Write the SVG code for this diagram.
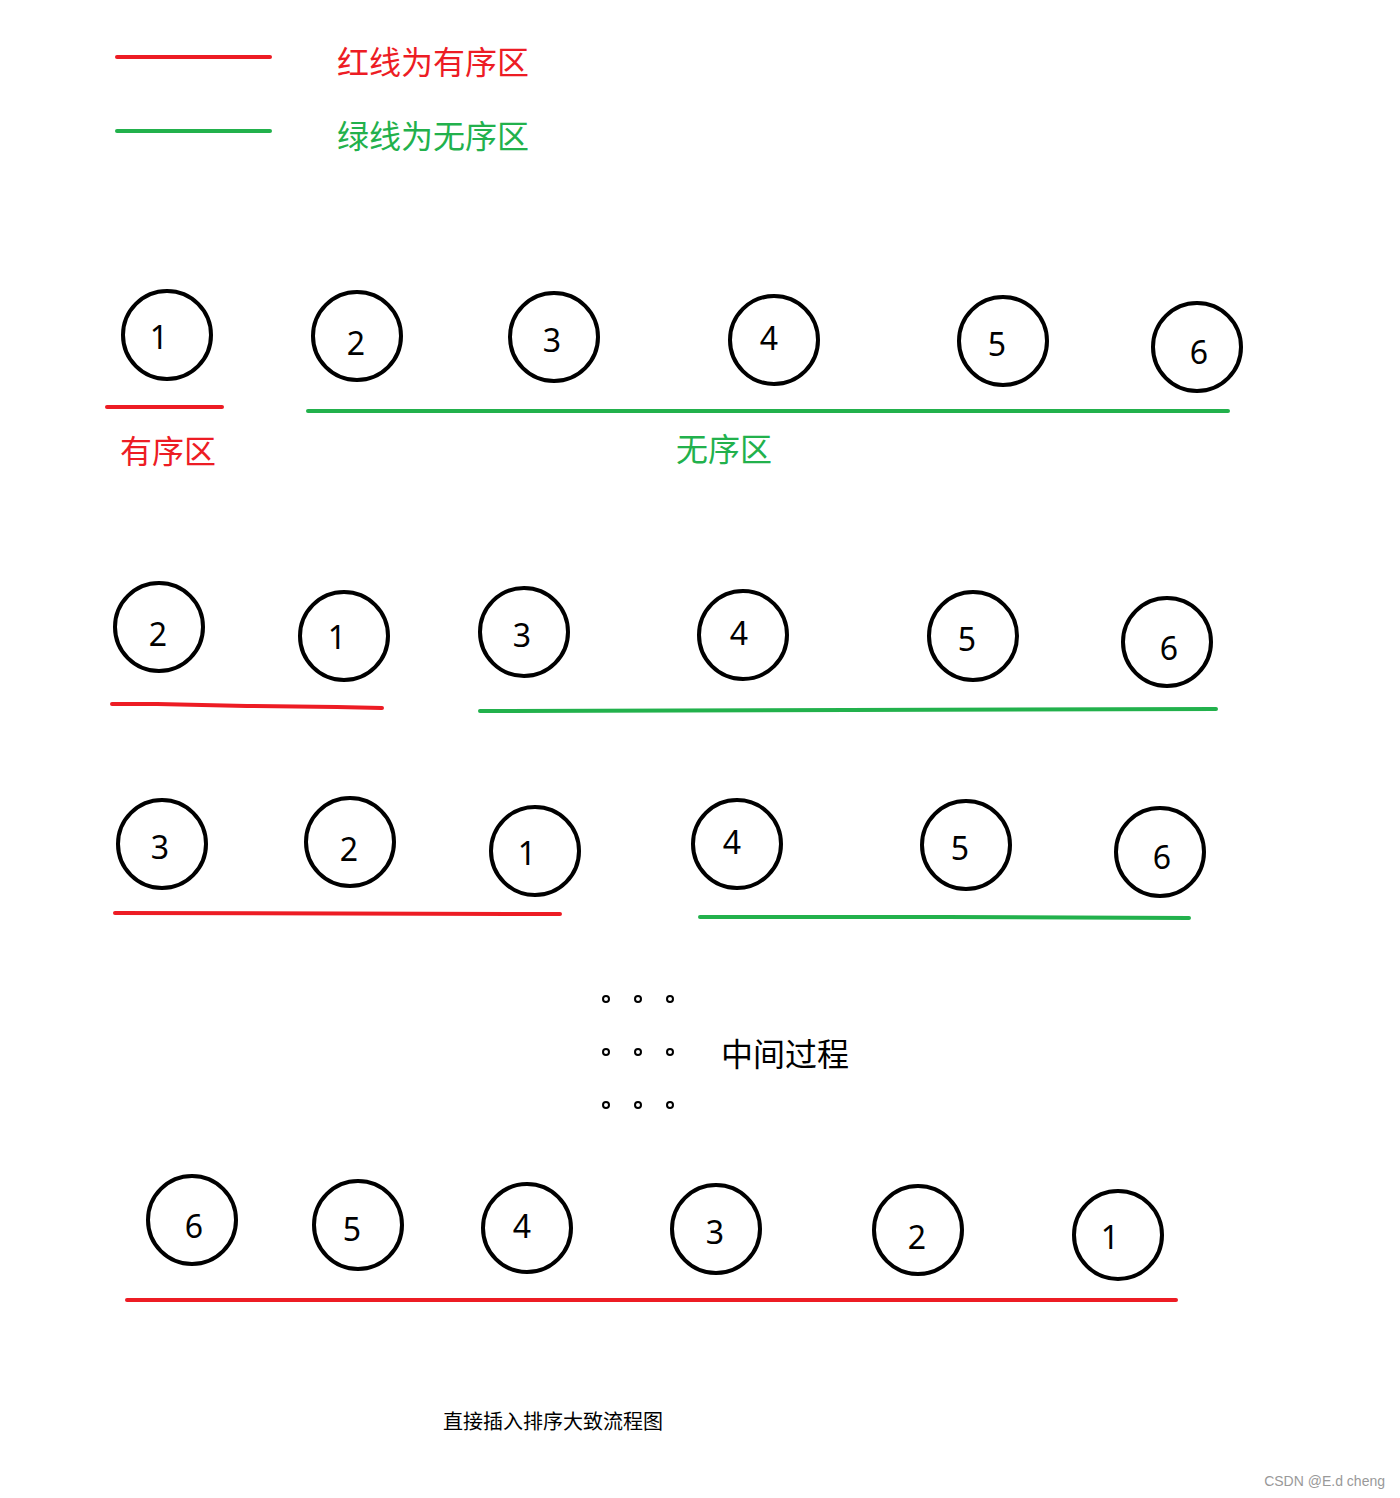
<svg xmlns="http://www.w3.org/2000/svg" width="1400" height="1498" viewBox="0 0 1400 1498">
<style>
.c{fill:none;stroke:#000;stroke-width:4}
.n{font-family:"Noto Sans","Open Sans","Liberation Sans",sans-serif;font-size:32px;fill:#000;text-anchor:middle;dominant-baseline:central}
.r{stroke:#ed1c24;stroke-width:4;stroke-linecap:round;fill:none}
.g{stroke:#22b14c;stroke-width:4;stroke-linecap:round;fill:none}
.t{font-family:"Noto Sans CJK SC","Noto Sans",sans-serif;font-size:32px;dominant-baseline:central}
.d{fill:none;stroke:#000;stroke-width:2}
</style>
<rect width="1400" height="1498" fill="#fff"/>
<g id="legend">
<line class="r" x1="117" y1="57" x2="270" y2="57"/>
<text class="t" x="337" y="60" fill="#ed1c24">红线为有序区</text>
<line class="g" x1="117" y1="131" x2="270" y2="131"/>
<text class="t" x="337" y="134" fill="#22b14c">绿线为无序区</text>
</g>
<g id="row1">
<g id="r1n1"><circle class="c" cx="167" cy="335" r="44"/><text class="n" x="159" y="336">1</text></g>
<g id="r1n2"><circle class="c" cx="357" cy="336" r="44"/><text class="n" x="356" y="342">2</text></g>
<g id="r1n3"><circle class="c" cx="554" cy="337" r="44"/><text class="n" x="552" y="339">3</text></g>
<g id="r1n4"><circle class="c" cx="774" cy="340" r="44"/><text class="n" x="769" y="337">4</text></g>
<g id="r1n5"><circle class="c" cx="1003" cy="341" r="44"/><text class="n" x="997" y="343">5</text></g>
<g id="r1n6"><circle class="c" cx="1197" cy="347" r="44"/><text class="n" x="1199" y="351">6</text></g>
<text class="t" x="120" y="449" fill="#ed1c24">有序区</text>
<text class="t" x="676" y="447" fill="#22b14c">无序区</text>
</g>
<g id="row2">
<g id="r2n2"><circle class="c" cx="159" cy="627" r="44"/><text class="n" x="158" y="633">2</text></g>
<g id="r2n1"><circle class="c" cx="344" cy="636" r="44"/><text class="n" x="337" y="636">1</text></g>
<g id="r2n3"><circle class="c" cx="524" cy="632" r="44"/><text class="n" x="522" y="634">3</text></g>
<g id="r2n4"><circle class="c" cx="743" cy="635" r="44"/><text class="n" x="739" y="632">4</text></g>
<g id="r2n5"><circle class="c" cx="973" cy="636" r="44"/><text class="n" x="967" y="638">5</text></g>
<g id="r2n6"><circle class="c" cx="1167" cy="642" r="44"/><text class="n" x="1169" y="647">6</text></g>
</g>
<g id="row3">
<g id="r3n3"><circle class="c" cx="162" cy="844" r="44"/><text class="n" x="160" y="846">3</text></g>
<g id="r3n2"><circle class="c" cx="350" cy="842" r="44"/><text class="n" x="349" y="848">2</text></g>
<g id="r3n1"><circle class="c" cx="535" cy="851" r="44"/><text class="n" x="527" y="852">1</text></g>
<g id="r3n4"><circle class="c" cx="737" cy="844" r="44"/><text class="n" x="732" y="841">4</text></g>
<g id="r3n5"><circle class="c" cx="966" cy="845" r="44"/><text class="n" x="960" y="847">5</text></g>
<g id="r3n6"><circle class="c" cx="1160" cy="852" r="44"/><text class="n" x="1162" y="856">6</text></g>
</g>
<g id="middle">
<circle class="d" cx="606" cy="999" r="3"/><circle class="d" cx="638" cy="999" r="3"/><circle class="d" cx="670" cy="999" r="3"/>
<circle class="d" cx="606" cy="1052" r="3"/><circle class="d" cx="638" cy="1052" r="3"/><circle class="d" cx="670" cy="1052" r="3"/>
<circle class="d" cx="606" cy="1105" r="3"/><circle class="d" cx="638" cy="1105" r="3"/><circle class="d" cx="670" cy="1105" r="3"/>
<text class="t" x="721" y="1052" fill="#000">中间过程</text>
</g>
<g id="row4">
<g id="r4n6"><circle class="c" cx="192" cy="1220" r="44"/><text class="n" x="194" y="1225">6</text></g>
<g id="r4n5"><circle class="c" cx="358" cy="1225" r="44"/><text class="n" x="352" y="1228">5</text></g>
<g id="r4n4"><circle class="c" cx="527" cy="1228" r="44"/><text class="n" x="522" y="1225">4</text></g>
<g id="r4n3"><circle class="c" cx="716" cy="1229" r="44"/><text class="n" x="715" y="1231">3</text></g>
<g id="r4n2"><circle class="c" cx="918" cy="1230" r="44"/><text class="n" x="917" y="1236">2</text></g>
<g id="r4n1"><circle class="c" cx="1118" cy="1235" r="44"/><text class="n" x="1110" y="1236">1</text></g>
</g>
<g id="connectors">
<line class="r" x1="107" y1="407" x2="222" y2="407"/>
<line class="g" x1="308" y1="411" x2="1228" y2="411"/>
<polyline class="r" points="112,704 157,704 247,706 337,707 382,708"/>
<polyline class="g" points="480,711 848,710 1216,709"/>
<line class="r" x1="115" y1="913" x2="560" y2="914"/>
<polyline class="g" points="700,917 945,917 1189,918"/>
<line class="r" x1="127" y1="1300" x2="1176" y2="1300"/>
</g>
<text x="443" y="1420" font-family="'Noto Sans CJK SC','Noto Sans',sans-serif" font-size="20" dominant-baseline="central" fill="#000">直接插入排序大致流程图</text>
<text x="1385" y="1481" font-family="'Liberation Sans',Arial,sans-serif" font-size="14" text-anchor="end" dominant-baseline="central" fill="#999">CSDN @E.d cheng</text>
</svg>
